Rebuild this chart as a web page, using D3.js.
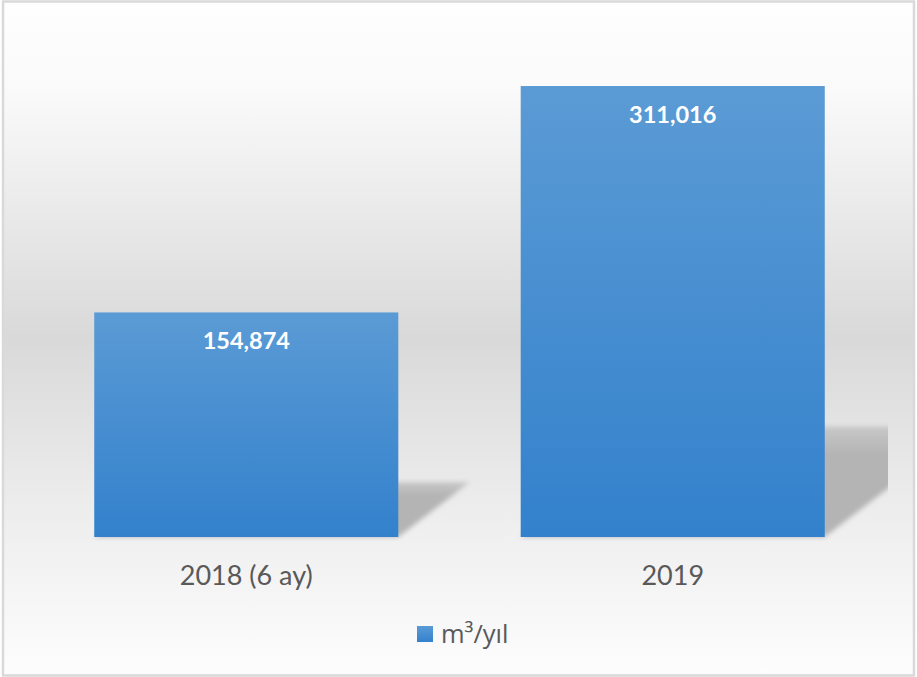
<!DOCTYPE html>
<html>
<head>
<meta charset="utf-8">
<script src="https://cdn.jsdelivr.net/npm/d3@7"></script>
<style>
  body { margin: 0; background: #fff; }
  text { font-family: Lato, "Open Sans", sans-serif; }
</style>
</head>
<body>
<div id="chart"></div>
<script>
const categories = ["2018 (6 ay)", "2019"];
const values = [154874, 311016];
const seriesName = "m³/yıl";
const yMax = 350000;

const W = 917, H = 677;
const plot = { left: 33, right: 886, top: 29.5, bottom: 537 };

const svg = d3.select("#chart").append("svg")
    .attr("width", W)
    .attr("height", H);

const defs = svg.append("defs");

// chart background gradient (white top, gray middle, light bottom)
const bg = defs.append("linearGradient")
    .attr("id", "bg").attr("x1", 0).attr("y1", 0).attr("x2", 0).attr("y2", 1);
[[0, "#fefefe"], [0.13, "#fafafa"], [0.5, "#d9d9d9"], [0.78, "#efefef"], [1, "#fdfdfd"]]
    .forEach(s => bg.append("stop").attr("offset", s[0]).attr("stop-color", s[1]));

const barGrad = defs.append("linearGradient")
    .attr("id", "barGrad").attr("x1", 0).attr("y1", 0).attr("x2", 0).attr("y2", 1);
barGrad.append("stop").attr("offset", 0).attr("stop-color", "#5b9bd5");
barGrad.append("stop").attr("offset", 1).attr("stop-color", "#3381cc");

const shGrad = defs.append("linearGradient")
    .attr("id", "shGrad").attr("x1", 0).attr("y1", 0).attr("x2", 0).attr("y2", 1);
shGrad.append("stop").attr("offset", 0).attr("stop-color", "#c8c8c8");
shGrad.append("stop").attr("offset", 0.25).attr("stop-color", "#b4b4b4");
shGrad.append("stop").attr("offset", 1).attr("stop-color", "#b4b4b4");

defs.append("filter").attr("id", "blur")
    .attr("x", -0.2).attr("y", -0.2).attr("width", 1.4).attr("height", 1.4)
  .append("feGaussianBlur").attr("stdDeviation", 2.5);

defs.append("clipPath").attr("id", "plotClip")
  .append("rect")
    .attr("x", plot.left).attr("y", plot.top)
    .attr("width", 888 - plot.left).attr("height", plot.bottom - plot.top + 4);

svg.append("rect")
    .attr("x", 3).attr("y", 1.5)
    .attr("width", 911).attr("height", 674)
    .attr("fill", "url(#bg)")
    .attr("stroke", "#d9d9d9")
    .attr("stroke-width", 2.5);

const x = d3.scaleBand()
    .domain(categories)
    .range([plot.left, plot.right])
    .paddingInner(0.287)
    .paddingOuter(0.1436);

const y = d3.scaleLinear()
    .domain([0, yMax])
    .range([plot.bottom, plot.top]);

const data = categories.map((c, i) => ({ cat: c, val: values[i] }));

// perspective shadows behind bars
svg.append("g")
    .attr("clip-path", "url(#plotClip)")
  .selectAll(".shadow")
  .data(data)
  .enter().append("path")
    .attr("class", "shadow")
    .attr("d", d => {
        const x0 = x(d.cat), x1 = x0 + x.bandwidth();
        const h = y(0) - y(d.val);
        const sh = h * 0.245, dx = sh * 1.3;
        const b = y(0);
        return `M${x0},${b}L${x1},${b}L${x1 + dx},${b - sh}L${x0 + dx},${b - sh}Z`;
    })
    .attr("fill", "url(#shGrad)")
    .attr("filter", "url(#blur)");

svg.selectAll(".bar")
    .data(data)
    .enter().append("rect")
    .attr("class", "bar")
    .attr("x", d => x(d.cat))
    .attr("y", d => y(d.val))
    .attr("width", x.bandwidth())
    .attr("height", d => y(0) - y(d.val))
    .attr("fill", "url(#barGrad)");

// value labels
svg.selectAll(".value-label")
    .data(data)
    .enter().append("text")
    .attr("class", "value-label")
    .attr("x", d => x(d.cat) + x.bandwidth() / 2)
    .attr("y", d => y(d.val) + 37)
    .attr("text-anchor", "middle")
    .style("font-size", "23.5px")
    .style("font-weight", "bold")
    .style("fill", "#fff")
    .text(d => d3.format(",")(d.val));

// category axis labels
const xAxis = svg.append("g")
    .attr("transform", `translate(0,${plot.bottom})`)
    .call(d3.axisBottom(x).tickSize(0).tickPadding(29));
xAxis.select(".domain").remove();
xAxis.selectAll("text")
    .style("font-family", "Lato, sans-serif")
    .style("font-size", "27px")
    .style("fill", "#595959");

// legend
const legend = svg.append("g").attr("transform", "translate(417,626)");
legend.append("rect")
    .attr("width", 16).attr("height", 16)
    .attr("fill", "url(#barGrad)");
legend.append("text")
    .attr("x", 24).attr("y", 17)
    .style("font-family", "'Open Sans', sans-serif")
    .style("font-size", "25.5px")
    .style("fill", "#595959")
    .text(seriesName);
</script>
</body>
</html>
